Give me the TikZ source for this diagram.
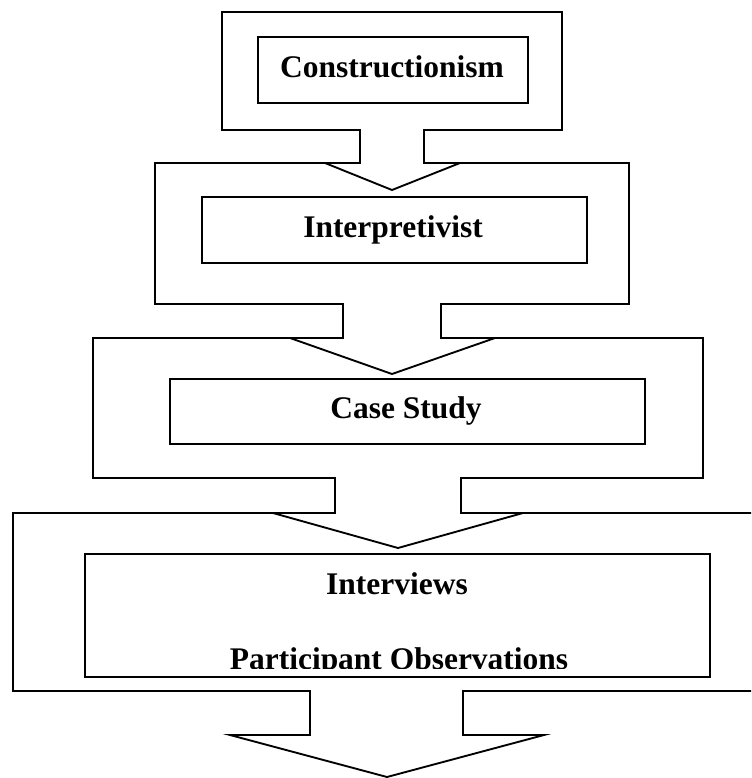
\documentclass[tikz,border=0pt]{standalone}
\usepackage{fontspec}
\setmainfont{Liberation Serif}
\usepackage{tikz}

\begin{document}
\begin{tikzpicture}[x=0.75pt,y=-0.75pt,
        stage/.style={draw=black,fill=white,line width=1.4pt},
        box/.style={draw=black,line width=1.4pt},
        lbl/.style={font=\fontsize{23.6}{28}\selectfont\bfseries,anchor=base,inner sep=0pt}]
        \clip (0,0) rectangle (751,778);

        % frames with arrows, lowest first so every head lies over the next frame
        \draw[stage] (13,513) -- (761,513) -- (761,691) -- (463,691) -- (463,735) -- (544,735) -- (387,777) -- (230,735) -- (310,735) -- (310,691) -- (13,691) -- cycle;
        \draw[stage] (93,338) -- (703,338) -- (703,478) -- (461,478) -- (461,513) -- (523,513) -- (398,548) -- (273,513) -- (335,513) -- (335,478) -- (93,478) -- cycle;
        \draw[stage] (155,163) -- (629,163) -- (629,304) -- (441,304) -- (441,338) -- (495,338) -- (392,374) -- (290,338) -- (343,338) -- (343,304) -- (155,304) -- cycle;
        \draw[stage] (222,12) -- (562,12) -- (562,130) -- (424,130) -- (424,163) -- (460,163) -- (392,190) -- (325,163) -- (360,163) -- (360,130) -- (222,130) -- cycle;

        % inner boxes
        \draw[box] (258,37) rectangle (528,103);
        \draw[box] (202,197) rectangle (587,263);
        \draw[box] (170,379) rectangle (645,444);
        \draw[box] (85,554) rectangle (710,677);

        \node[lbl] (cons) at (392,77) {Constructionism};
        \node[lbl] (interp) at (393,237) {Interpretivist};
        \node[lbl] (case) at (406,418) {Case Study};
        \node[lbl] (intv) at (397,594) {Interviews};
        \begin{scope}
            \clip (85,554) rectangle (710,668);
            \node[lbl] (obs) at (399,669) {Participant Observations};
        \end{scope}
    \end{tikzpicture}
\end{document}
